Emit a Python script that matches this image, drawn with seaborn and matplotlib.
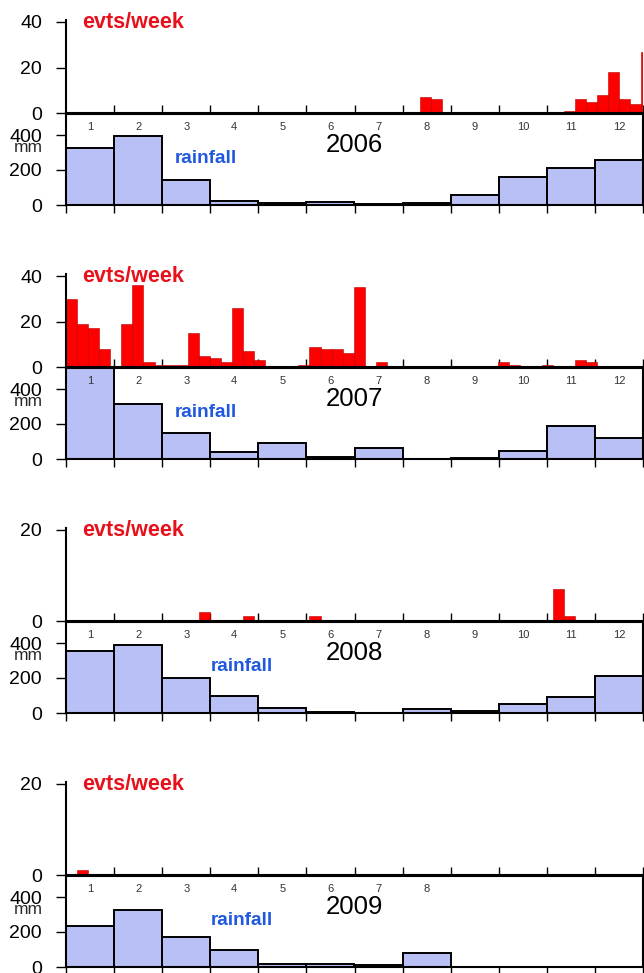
import numpy as np
import pandas as pd
import matplotlib
matplotlib.use("Agg")
import matplotlib.pyplot as plt
import matplotlib.transforms as mtransforms
import seaborn as sns

# ---------------- data ----------------
years = ["2006", "2007", "2008", "2009"]
month_labels = ["1", "2", "3", "4", "5", "6", "7", "8", "9", "10", "11", "12"]

# weekly event counts (53 weekly bins starting Jan 1)
events_2006 = [0, 0, 0, 0, 0, 0, 0, 0, 0, 0,
               0, 0, 0, 0, 0, 0, 0, 0, 0, 0,
               0, 0, 0, 0, 0, 0, 0, 0, 0, 0,
               0, 0, 7, 6, 0, 0, 0, 0, 0, 0,
               0, 0, 0, 0, 0, 1, 6, 5, 8, 18,
               6, 4, 27]
events_2007 = [30, 19, 17, 8, 0, 19, 36, 2, 1, 1,
               1, 15, 5, 4, 2, 26, 7, 3, 0, 0,
               0, 1, 9, 8, 8, 6, 35, 0, 2, 0,
               0, 0, 0, 0, 0, 0, 0, 0, 0, 2,
               1, 0, 0, 1, 0, 0, 3, 2, 0, 0,
               0, 0, 0]
events_2008 = [0, 0, 0, 0, 0, 0, 0, 0, 0, 0,
               0, 0, 2, 0, 0, 0, 1, 0, 0, 0,
               0, 0, 1, 0, 0, 0, 0, 0, 0, 0,
               0, 0, 0, 0, 0, 0, 0, 0, 0, 0,
               0, 0, 0, 0, 7, 1, 0, 0, 0, 0,
               0, 0, 0]
events_2009 = [0, 1, 0, 0, 0, 0, 0, 0, 0, 0,
               0, 0, 0, 0, 0, 0, 0, 0, 0, 0,
               0, 0, 0, 0, 0, 0, 0, 0, 0, 0,
               0, 0, 0, 0, 0]

# monthly rainfall (mm)
rain_2006 = [325, 395, 145, 25, 13, 17, 6, 11, 57, 162, 210, 255]
rain_2007 = [525, 314, 147, 38, 90, 10, 65, 2, 8, 48, 186, 119]
rain_2008 = [356, 388, 198, 96, 31, 8, 1, 21, 10, 50, 90, 213]
rain_2009 = [237, 327, 169, 96, 15, 17, 12, 81]

event_ymax = [40, 40, 20, 20]
rain_label_x = [2.27, 2.27, 3.0, 3.0]   # month position of the "rainfall" tag

events_all = [events_2006, events_2007, events_2008, events_2009]
rain_all = [rain_2006, rain_2007, rain_2008, rain_2009]

# ---------------- style ----------------
sns.set_style("ticks")
plt.rcParams["font.family"] = ["Liberation Sans", "DejaVu Sans"]
plt.rcParams["axes.edgecolor"] = "black"
plt.rcParams["xtick.color"] = "black"
plt.rcParams["ytick.color"] = "black"

W, H = 644, 973
fig = plt.figure(figsize=(W / 100, H / 100), dpi=100)

def fx(px):
    return px / W

def fy(px):
    return 1 - px / H

L, R = 66, 643
BLOCK = 254
RAIN_TOP = 520.0
week = 7 * 12 / 365.0  # width of one week on a month axis

for k, yr in enumerate(years):
    off = BLOCK * k
    ymax = event_ymax[k]
    ytop = ymax * 1.025
    e_bottom = 113 + off
    e_height = 91 * ytop / ymax

    # ---- events axes ----
    ax_e = fig.add_axes([fx(L), fy(e_bottom), (R - L) / W, e_height / H])
    ax_e.patch.set_alpha(0)
    ev = np.asarray(events_all[k], dtype=float)
    edges = np.arange(len(ev) + 1) * week
    df_e = pd.DataFrame({"t": edges[:-1] + week / 2, "n": ev})
    sns.histplot(data=df_e, x="t", weights="n", bins=[float(b) for b in edges],
                 ax=ax_e, color="#ff0000", alpha=1, edgecolor="#b80000",
                 linewidth=0.4)
    ax_e.set_xlim(0, 12)
    ax_e.set_ylim(0, ytop)
    ax_e.set_xlabel("")
    ax_e.set_ylabel("")
    ax_e.set_xticks(np.arange(1, 13))
    ax_e.set_yticks(np.arange(0, ymax + 1, 20))
    ax_e.tick_params(axis="x", direction="in", length=5.8, width=1.0,
                     labelbottom=False)
    ax_e.tick_params(axis="y", direction="out", length=7.2, width=1.0,
                     pad=10, labelsize=14)
    for s in ["top", "right"]:
        ax_e.spines[s].set_visible(False)
    for s in ["left", "bottom"]:
        ax_e.spines[s].set_linewidth(1.5)
    fig.text(fx(82), fy(28 + off), "evts/week", color="#e8101a",
             fontsize=15.5, fontweight="bold", ha="left", va="baseline")

    # ---- rainfall axes ----
    r_bottom = 205 + off
    ax_r = fig.add_axes([fx(L), fy(r_bottom), (R - L) / W, 91 / H])
    ax_r.patch.set_alpha(0)
    rn = np.asarray(rain_all[k], dtype=float)
    medges = np.arange(len(rn) + 1)
    df_r = pd.DataFrame({"m": medges[:-1] + 0.5, "mm": rn})
    sns.histplot(data=df_r, x="m", weights="mm", bins=[float(b) for b in medges],
                 ax=ax_r, color="#b9c0f5", alpha=1, edgecolor="black",
                 linewidth=1.4)
    ax_r.set_xlim(0, 12)
    ax_r.set_ylim(0, RAIN_TOP)
    ax_r.set_xlabel("")
    ax_r.set_ylabel("")
    ax_r.set_xticks(np.arange(0, 13))
    ax_r.set_yticks([0, 200, 400])
    ax_r.tick_params(axis="x", direction="out", length=5.8, width=1.0,
                     labelbottom=False)
    ax_r.tick_params(axis="y", direction="out", length=7.2, width=1.0,
                     pad=10, labelsize=14)
    for s in ax_r.spines.values():
        s.set_visible(True)
        s.set_linewidth(1.5)

    trans = mtransforms.blended_transform_factory(ax_r.transData, ax_r.transAxes)
    for m in range(len(rn)):
        ax_r.text(m + 0.5, (205 - 130) / 91, month_labels[m], transform=trans,
                  ha="center", va="baseline", fontsize=8, color="#333333")
    ax_r.text(6, (205 - 151.7) / 91, yr, transform=trans, ha="center",
              va="baseline", fontsize=18.5, color="black")
    ax_r.text(rain_label_x[k], (205 - 163) / 91, "rainfall", transform=trans,
              ha="left", va="baseline", fontsize=13.6, fontweight="bold",
              color="#2058e0")
    fig.text(fx(43), fy(152 + off), "mm", ha="right", va="baseline",
             fontsize=12.5)

fig.savefig("out.png", dpi=100)
